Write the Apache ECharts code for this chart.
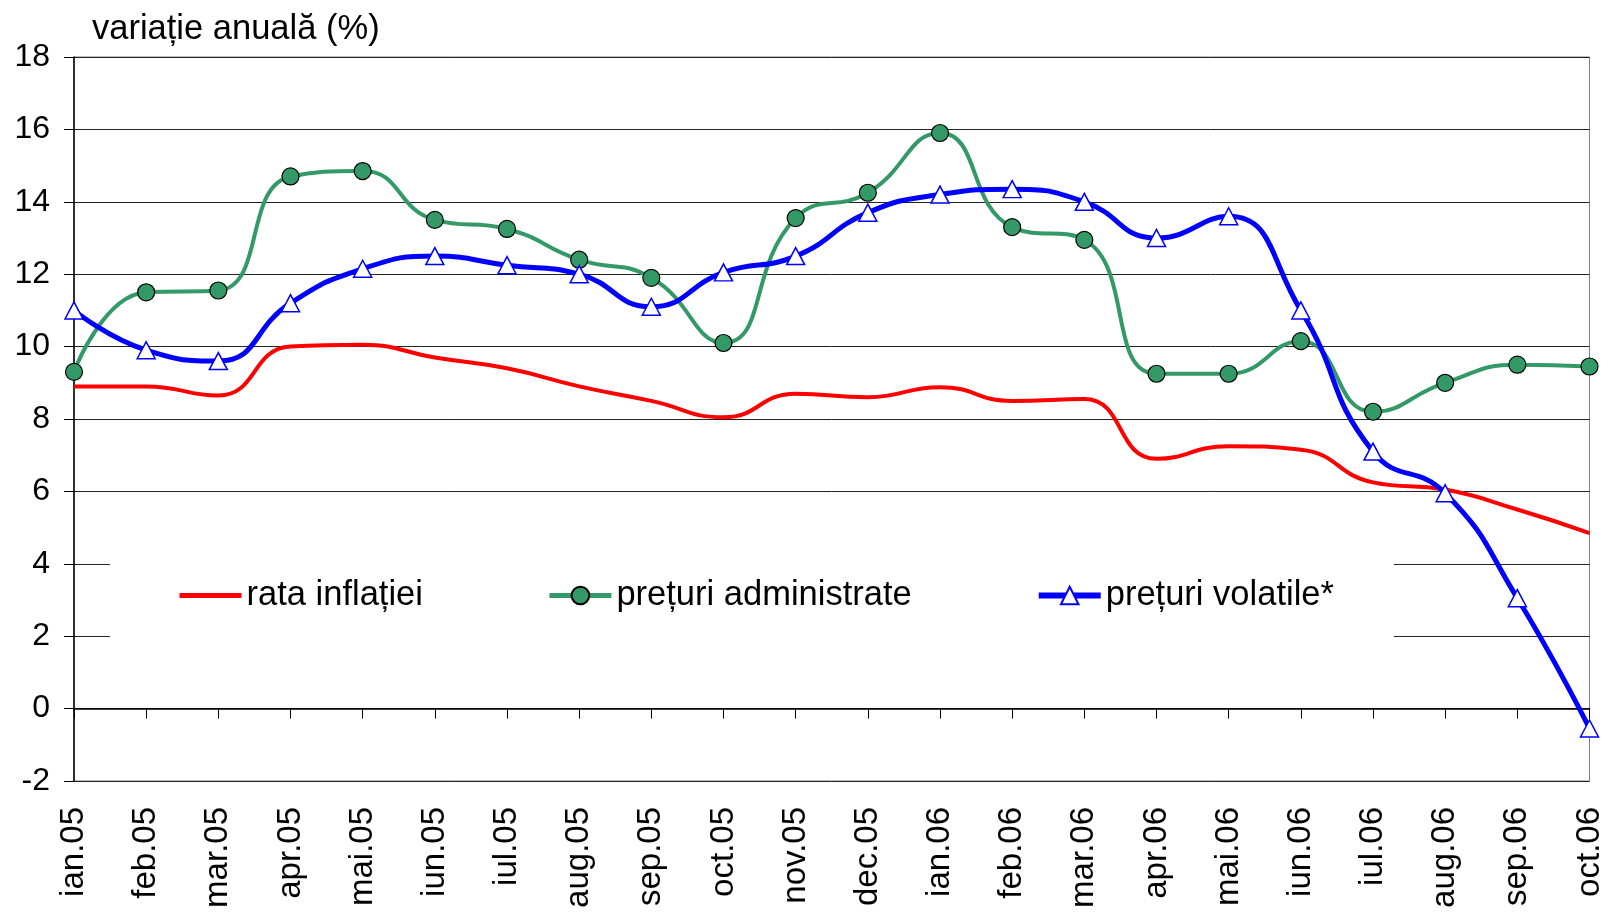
<!DOCTYPE html>
<html>
<head>
<meta charset="utf-8">
<title>variație anuală</title>
<script src="https://cdn.jsdelivr.net/npm/echarts@6/dist/echarts.min.js"></script>
<style>
  html, body { margin: 0; padding: 0; background: #fff; }
  #main { width: 1606px; height: 914px; }
</style>
</head>
<body>
<div id="main"></div>
<script>
// luni (axa X)
const months = ['ian.05', 'feb.05', 'mar.05', 'apr.05', 'mai.05', 'iun.05', 'iul.05', 'aug.05',
  'sep.05', 'oct.05', 'nov.05', 'dec.05', 'ian.06', 'feb.06', 'mar.06', 'apr.06', 'mai.06',
  'iun.06', 'iul.06', 'aug.06', 'sep.06', 'oct.06']

// valori
const rataInflatiei = [8.9, 8.9, 8.65, 10.0, 10.05, 9.7, 9.4, 8.9, 8.5, 8.05, 8.7, 8.6,
  8.88, 8.5, 8.55, 6.9, 7.25, 7.15, 6.25, 6.05, 5.5, 4.85]
const preturiAdministrate = [9.3, 11.5, 11.55, 14.7, 14.85, 13.5, 13.25, 12.4, 11.9, 10.1, 13.55, 14.25,
  15.9, 13.3, 12.95, 9.25, 9.25, 10.15, 8.2, 9.0, 9.5, 9.45]
const preturiVolatile = [11.0, 9.9, 9.6, 11.2, 12.15, 12.5, 12.25, 12.0, 11.1, 12.05, 12.5, 13.7,
  14.2, 14.35, 14.0, 13.0, 13.6, 11.0, 7.1, 5.95, 3.05, -0.55]

const font = "'Liberation Sans', Arial, sans-serif"

var myChart = echarts.init(document.getElementById('main'))

const options = {
  animation: false,
  backgroundColor: '#fff',
  textStyle: { fontFamily: font, color: '#000' },
  title: {
    text: 'variație anuală (%)',
    left: 87,
    top: 7,
    textStyle: { fontFamily: font, fontSize: 34.5, fontWeight: 'normal', color: '#000' }
  },
  legend: {
    left: 110,
    top: 550,
    padding: [28, 60, 32, 67],
    backgroundColor: '#fff',
    itemGap: 124,
    itemWidth: 62,
    itemHeight: 22,
    textStyle: { fontFamily: font, fontSize: 34.5, color: '#000' },
    data: [
      { name: 'rata inflației', itemStyle: { opacity: 0 }, lineStyle: { width: 5, color: '#ff0000' } },
      { name: 'prețuri administrate', lineStyle: { width: 5 } },
      { name: 'prețuri volatile*', lineStyle: { width: 6 } }
    ]
  },
  grid: {
    left: 74,
    right: 15,
    top: 57,
    bottom: 133,
    show: true,
    borderColor: '#808080',
    borderWidth: 1
  },
  xAxis: {
    type: 'category',
    boundaryGap: false,
    data: months,
    axisLine: { lineStyle: { color: '#000', width: 1.5 } },
    axisTick: { alignWithLabel: true, length: 10, lineStyle: { color: '#000' } },
    axisLabel: {
      rotate: 90,
      margin: 26,
      interval: 0,
      fontFamily: font,
      fontSize: 33,
      color: '#000'
    }
  },
  yAxis: {
    type: 'value',
    min: -2,
    max: 18,
    interval: 2,
    axisLine: { show: true, lineStyle: { color: '#000', width: 1.5 } },
    axisTick: { show: true, length: 10, lineStyle: { color: '#000' } },
    axisLabel: { margin: 24, fontFamily: font, fontSize: 32, color: '#000' },
    splitLine: { lineStyle: { color: '#222', width: 1 } }
  },
  series: [
    {
      name: 'rata inflației',
      type: 'line',
      smooth: 0.5,
      data: rataInflatiei,
      symbol: 'none',
      lineStyle: { color: '#ff0000', width: 4 },
      itemStyle: { color: '#ff0000' },
      z: 3
    },
    {
      name: 'prețuri administrate',
      type: 'line',
      smooth: 0.5,
      data: preturiAdministrate,
      symbol: 'circle',
      symbolSize: 17,
      lineStyle: { color: '#339966', width: 4 },
      itemStyle: { color: '#339966', borderColor: '#000', borderWidth: 1.2 },
      z: 4
    },
    {
      name: 'prețuri volatile*',
      type: 'line',
      smooth: 0.5,
      data: preturiVolatile,
      symbol: 'triangle',
      symbolSize: [18, 17],
      lineStyle: { color: '#0000ff', width: 5 },
      itemStyle: { color: '#fff', borderColor: '#0000ff', borderWidth: 1.5 },
      z: 5
    }
  ]
}

myChart.setOption(options)
</script>
</body>
</html>
